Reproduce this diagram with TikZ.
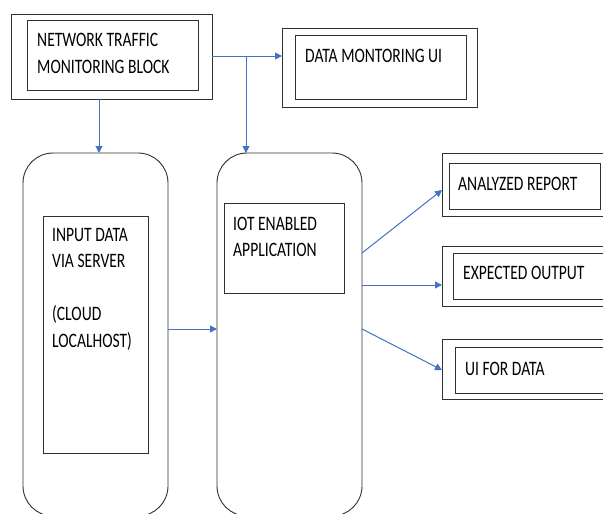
\documentclass[tikz,border=0pt]{standalone}
\usepackage{fontspec}
\setmainfont{Carlito}
\usetikzlibrary{arrows.meta}
\definecolor{arrblue}{HTML}{4472C4}
\definecolor{boxline}{HTML}{303030}
\newcommand\sq[1]{\scalebox{0.76}[1]{#1}}
\tikzset{
  box/.style={draw=boxline, line width=0.9pt, inner sep=0pt, outer sep=0pt, anchor=north west},
  rbox/.style={box, rounded corners=30pt},
  lbl/.style={anchor=west, inner sep=0pt, align=left, font=\fontsize{20.5}{26.5}\selectfont},
  arr/.style={draw=arrblue, line width=1pt, -{Triangle[length=7pt,width=7pt]}}
}
\begin{document}
\begin{tikzpicture}[x=1pt,y=-1pt]
\useasboundingbox (0,0) rectangle (603,514);
\clip (0,0) rectangle (603,514);
% network block
\node[box, minimum width=201pt, minimum height=85pt] (netO) at (11,14) {};
\node[box, minimum width=171pt, minimum height=70pt] (netI) at (27,20) {};
\node[lbl] (netT) at (37,53.5) {\sq{NETWORK TRAFFIC}\\\sq{MONITORING BLOCK}};
% data monitoring
\node[box, minimum width=195pt, minimum height=79pt] (dmO) at (282,28) {};
\node[box, minimum width=171pt, minimum height=64pt] (dmI) at (295,35) {};
\node[lbl] (dmT) at (305,56) {\sq{DATA MONTORING UI}};
% input rounded
\node[rbox, minimum width=145pt, minimum height=363pt] (inR) at (23,153) {};
\node[box, minimum width=105pt, minimum height=237pt] (inI) at (43,216) {};
\node[lbl] (inT) at (52,289) {\sq{INPUT DATA}\\\sq{VIA SERVER}\\[26.5pt]\sq{(CLOUD}\\\sq{LOCALHOST)}};
% iot rounded
\node[rbox, minimum width=145pt, minimum height=363pt] (iotR) at (217,153) {};
\node[box, minimum width=120pt, minimum height=90pt] (iotI) at (224,203) {};
\node[lbl] (iotT) at (233,237) {\sq{IOT ENABLED}\\\sq{APPLICATION}};
% outputs
\node[box, minimum width=180pt, minimum height=63pt] (anO) at (442,153) {};
\node[box, minimum width=151pt, minimum height=46pt] (anI) at (449,163) {};
\node[lbl] (anT) at (458,184) {\sq{ANALYZED REPORT}};
\node[box, minimum width=180pt, minimum height=60pt] (exO) at (442,246) {};
\node[box, minimum width=170pt, minimum height=46pt] (exI) at (453,253) {};
\node[lbl] (exT) at (463,273) {\sq{EXPECTED OUTPUT}};
\node[box, minimum width=180pt, minimum height=60pt] (uiO) at (442,339) {};
\node[box, minimum width=170pt, minimum height=46pt] (uiI) at (455,347) {};
\node[lbl] (uiT) at (465,369) {\sq{UI FOR DATA}};
% connectors
\coordinate (br) at (246,56);
\coordinate (nd) at (99,99);
\draw[arr] (netO.east |- br) -- (dmO.west |- br);
\draw[arr] (br) -- (br |- iotR.north);
\draw[arr] (nd) -- (nd |- inR.north);
\draw[arr] ([yshift=-176pt]inR.north east) -- ([yshift=-176pt]iotR.north west);
\draw[arr] ([yshift=-100pt]iotR.north east) -- ([yshift=-37pt]anO.north west);
\draw[arr] ([yshift=-132pt]iotR.north east) -- ([yshift=-39pt]exO.north west);
\draw[arr] ([yshift=-176pt]iotR.north east) -- ([yshift=-31pt]uiO.north west);
\end{tikzpicture}
\end{document}
